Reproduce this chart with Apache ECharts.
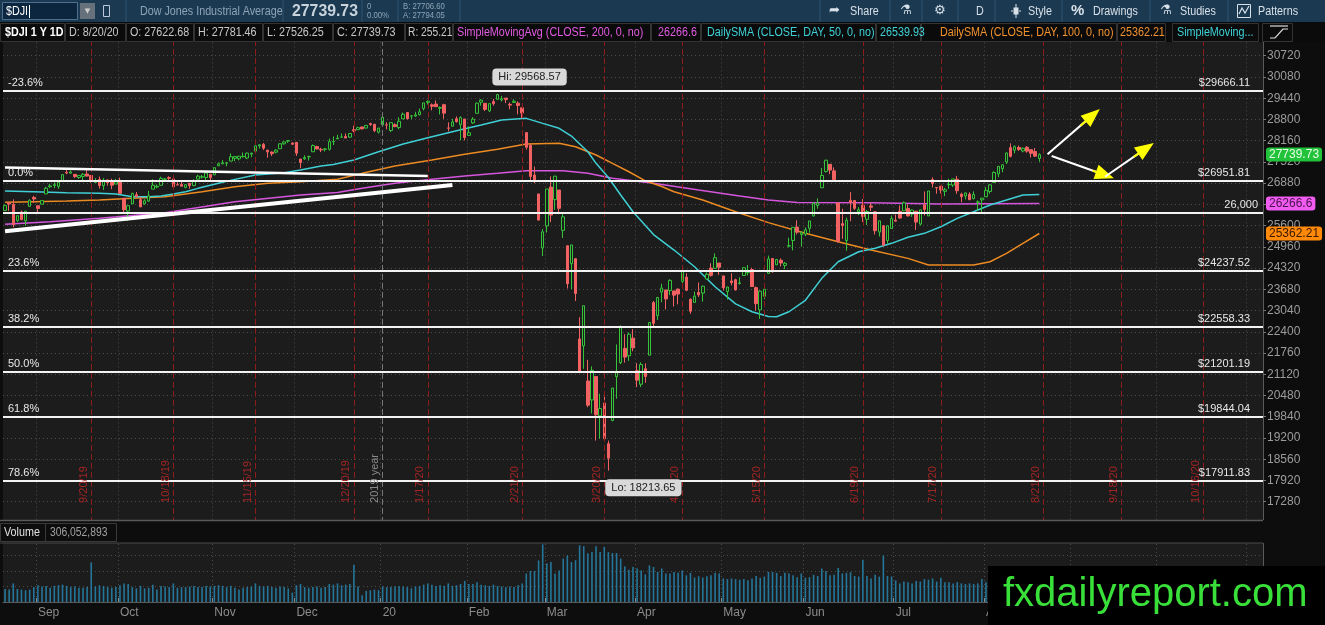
<!DOCTYPE html>
<html lang="en">
<head>
<meta charset="UTF-8">
<title>$DJI 1 Y 1D</title>
<script src="https://cdn.jsdelivr.net/npm/echarts@6/dist/echarts.min.js"></script>
<style>
  html, body { margin: 0; padding: 0; background: #0d0d0d; }
  #chartmain { width: 1325px; height: 625px; }
</style>
</head>
<body>
<div id="chartmain"></div>
<script>
// trading days shown on the time axis (after 8/20/20 the chart is empty space)
var tradingDays = {
    '2019-8':  [21,22,23,26,27,28,29,30],
    '2019-9':  [3,4,5,6,9,10,11,12,13,16,17,18,19,20,23,24,25,26,27,30],
    '2019-10': [1,2,3,4,7,8,9,10,11,14,15,16,17,18,21,22,23,24,25,28,29,30,31],
    '2019-11': [1,4,5,6,7,8,11,12,13,14,15,18,19,20,21,22,25,26,27,29],
    '2019-12': [2,3,4,5,6,9,10,11,12,13,16,17,18,19,20,23,24,26,27,30,31],
    '2020-1':  [2,3,6,7,8,9,10,13,14,15,16,17,21,22,23,24,27,28,29,30,31],
    '2020-2':  [3,4,5,6,7,10,11,12,13,14,18,19,20,21,24,25,26,27,28],
    '2020-3':  [2,3,4,5,6,9,10,11,12,13,16,17,18,19,20,23,24,25,26,27,30,31],
    '2020-4':  [1,2,3,6,7,8,9,13,14,15,16,17,20,21,22,23,24,27,28,29,30],
    '2020-5':  [1,4,5,6,7,8,11,12,13,14,15,18,19,20,21,22,26,27,28,29],
    '2020-6':  [1,2,3,4,5,8,9,10,11,12,15,16,17,18,19,22,23,24,25,26,29,30],
    '2020-7':  [1,2,6,7,8,9,10,13,14,15,16,17,20,21,22,23,24,27,28,29,30,31],
    '2020-8':  [3,4,5,6,7,10,11,12,13,14,17,18,19,20,21,24,25,26,27,28,31],
    '2020-9':  [1,2,3,4,8,9,10,11,14,15,16,17,18,21,22,23,24,25,28,29,30],
    '2020-10': [1,2,5,6,7,8,9,12,13,14,15,16,19,20,21,22,23,26,27,28,29,30],
    '2020-11': [2,3,4,5]
};
var monthNames = ['Jan','Feb','Mar','Apr','May','Jun','Jul','Aug','Sep','Oct','Nov','Dec'];

// daily candles [open, high, low, close], 8/21/19 .. 8/20/20
var ohlc = [
    // Aug 2019
    [26058,26240,26052,26202],[26290,26319,26042,26252],[26238,26390,25550,25629],[25747,25899,25712,25899],
    [26009,26053,25767,25778],[25743,26042,25596,26036],[26178,26395,26178,26363],[26449,26498,26280,26403],
    // Sep
    [26198,26198,25979,26118],[26245,26365,26245,26355],[26555,26768,26555,26728],[26769,26860,26743,26797],
    [26809,26906,26728,26835],[26780,26910,26708,26909],[26941,27138,26918,27137],[27205,27307,27149,27182],
    [27182,27266,27164,27220],[27145,27154,27041,27076],[27050,27112,27011,27111],[27083,27182,26930,27147],
    [27155,27306,27082,27094],[27111,27122,26890,26935],[26903,27030,26890,26949],[26990,27079,26715,26808],
    [26806,27033,26674,26970],[26977,26988,26804,26891],[26939,27014,26698,26820],[26852,27009,26852,26917],
    // Oct
    [26963,27047,26562,26573],[26425,26425,25974,26078],[26039,26207,25743,26201],[26257,26588,26257,26573],
    [26532,26613,26443,26478],[26383,26469,26160,26164],[26256,26398,26233,26347],[26339,26646,26320,26497],
    [26700,27000,26700,26817],[26763,26839,26728,26787],[26815,27074,26815,27024],[27000,27037,26935,27002],
    [27049,27089,26952,27026],[27008,27022,26718,26770],[26834,26904,26808,26828],[26841,26949,26788,26788],
    [26751,26834,26722,26834],[26876,26881,26711,26806],[26803,27000,26791,26958],[27002,27132,27002,27091],
    [27060,27125,27022,27071],[27051,27189,26929,27186],[27147,27147,26917,27046],
    // Nov
    [27130,27348,27130,27347],[27401,27502,27401,27462],[27462,27573,27455,27492],[27482,27520,27389,27493],
    [27546,27775,27546,27675],[27629,27681,27543,27681],[27614,27691,27567,27691],[27677,27802,27653,27691],
    [27638,27800,27603,27784],[27756,27798,27662,27782],[27843,28005,27843,28005],[28000,28053,27922,28036],
    [28048,28091,27876,27934],[27875,27883,27647,27821],[27815,27838,27696,27767],[27814,27901,27777,27876],
    [27917,28068,27917,28067],[28065,28134,28040,28122],[28145,28175,28094,28164],[28089,28105,28036,28051],
    // Dec
    [28109,28109,27701,27784],[27605,27605,27325,27503],[27616,27719,27578,27650],[27675,27710,27559,27678],
    [27826,28046,27826,28015],[27981,28009,27903,27910],[27900,27945,27815,27881],[27900,27942,27832,27911],
    [27901,28225,27858,28132],[28124,28289,28028,28135],[28213,28337,28213,28236],[28268,28377,28244,28268],
    [28285,28377,28237,28239],[28266,28377,28245,28377],[28491,28608,28412,28455],[28491,28582,28491,28551],
    [28573,28576,28503,28515],[28539,28621,28535,28621],[28675,28701,28608,28645],[28654,28664,28420,28462],
    [28416,28547,28376,28538],
    // Jan 2020
    [28638,28872,28627,28868],[28635,28716,28501,28634],[28466,28708,28420,28703],[28640,28686,28565,28584],
    [28556,28866,28501,28745],[28817,29009,28817,28957],[29009,29017,28796,28824],[28903,28910,28807,28907],
    [28904,29030,28877,28940],[28943,29127,28919,29030],[29132,29300,29071,29298],[29313,29374,29250,29348],
    [29239,29283,29073,29196],[29264,29373,29170,29186],[29137,29192,28950,29160],[29244,29271,28818,28990],
    [28543,28711,28440,28536],[28596,28819,28596,28723],[28820,28891,28704,28734],[28641,28888,28170,28860],
    [28813,28813,28169,28256],
    // Feb
    [28319,28595,28319,28400],[28696,28868,28665,28808],[28986,29308,28986,29291],[29320,29408,29214,29380],
    [29286,29286,29056,29103],[29059,29277,29024,29276],[29337,29415,29216,29276],[29406,29568.57,29406,29551],
    [29391,29508,29341,29424],[29443,29443,29293,29398],[29255,29310,29107,29232],[29313,29410,29300,29348],
    [29291,29346,28952,29220],[29152,29152,28830,28992],[28403,28403,27891,27961],[28024,28065,26977,27081],
    [27123,27378,26879,26957],[26555,26555,25758,25766],[24924,25496,24681,25409],
    // Mar
    [25591,26706,25391,26703],[26762,27084,25706,25917],[26383,27091,26077,27091],[26671,26671,25943,26121],
    [25457,25994,25226,25864],[24993,24993,23706,23851],[24453,25020,23690,25018],[24604,24604,23328,23553],
    [22184,22838,21154,21200],[21973,23190,21285,23185],[20917,21555,20127,20189],[20345,21357,19941,21237],
    [21051,21051,19122,19899],[19863,20531,19177,20087],[20253,20531,19112,19174],[19028,19121,18213.65,18592],
    [19723,20705,19708,20704],[21050,22020,20383,21201],[21468,22595,21427,22552],[21899,22327,21470,21637],
    [21678,22378,21522,22327],[22208,22480,21813,21917],
    // Apr
    [21228,21453,20735,20943],[20819,21478,20735,21413],[21285,21447,20863,21053],[21693,22680,21693,22680],
    [23280,23329,22552,22654],[22885,23452,22755,23434],[23596,23849,23291,23719],[23660,23660,23072,23390],
    [23642,23980,23506,23950],[23632,23632,23164,23504],[23686,23700,23226,23538],[23922,24264,23811,24242],
    [24049,24164,23633,23650],[23380,23407,22942,23019],[23286,23610,23286,23475],[23583,23887,23450,23515],
    [23568,23790,23309,23775],[23991,24190,23978,24134],[24320,24466,24060,24101],[24312,24764,24312,24634],
    [24472,24472,24118,24346],
    // May
    [24085,24085,23643,23724],[23612,23760,23372,23749],[23932,24164,23800,23883],[23969,24002,23639,23665],
    [23855,24041,23823,23875],[24097,24349,24097,24331],[24181,24410,24101,24221],[24275,24331,23764,23764],
    [23731,23767,23036,23248],[23060,23644,22790,23625],[23471,23686,23383,23685],[24160,24695,24160,24597],
    [24608,24608,24186,24207],[24419,24599,24409,24576],[24557,24612,24369,24474],[24400,24503,24290,24465],
    [24982,25234,24943,24995],[25154,25548,24854,25548],[25555,25761,25334,25401],[25331,25426,24964,25383],
    // Jun
    [25342,25545,25281,25475],[25518,25742,25384,25742],[25889,26305,25889,26270],[26205,26421,26108,26282],
    [26741,27338,26741,27111],[27232,27580,27200,27572],[27447,27447,27152,27273],[27251,27355,26939,26990],
    [26282,26282,25082,25128],[25659,26110,25201,25606],[25148,25841,24843,25763],[26365,26611,25732,26290],
    [26356,26367,26073,26120],[26016,26154,25916,26080],[26214,26400,25714,25871],[25791,26072,25621,26025],
    [26194,26288,26036,26156],[26017,26035,25329,25445],[25406,25745,25270,25745],[25596,25596,24971,25016],
    [25152,25597,25059,25596],[25512,25905,25504,25813],
    // Jul
    [25763,25934,25724,25735],[26031,26204,25806,25827],[26047,26328,26037,26287],[26114,26237,25884,25890],
    [25947,26085,25865,26067],[26035,26035,25470,25706],[25647,26075,25601,26075],[26224,26630,25905,26086],
    [25891,26643,25891,26643],[26987,27056,26749,26870],[26750,26758,26562,26735],[26787,26787,26567,26672],
    [26632,26738,26486,26681],[26831,27013,26710,26840],[26822,27006,26764,27005],[26998,27100,26558,26652],
    [26549,26590,26305,26470],[26491,26600,26388,26584],[26548,26604,26370,26380],[26414,26631,26389,26540],
    [26306,26363,26053,26314],[26377,26429,26008,26428],
    // Aug
    [26468,26760,26468,26664],[26629,26847,26560,26828],[26901,27241,26901,27201],[27160,27391,27057,27387],
    [27316,27434,27208,27433],[27521,27800,27457,27791],[27950,28081,27655,27687],[27871,28020,27778,27977],
    [27955,28013,27848,27897],[27850,27961,27809,27931],[27961,27997,27794,27845],[27889,27889,27651,27779],
    [27835,27939,27689,27692],[27622.68,27781.46,27526.25,27739.73]
];

// volume, millions of shares
var volume = [
    210,200,300,210,200,190,200,240,
    270,250,260,230,260,270,280,260,240,250,230,230,240,640,250,270,260,240,230,240,
    270,300,290,240,220,260,220,230,280,200,260,250,240,300,230,240,240,250,260,240,240,260,250,
    260,270,260,240,260,230,200,230,240,250,300,260,250,260,240,230,250,240,220,150,
    270,290,240,230,240,250,230,240,290,280,300,270,280,290,600,250,110,180,190,200,190,
    250,240,240,250,260,250,240,220,250,260,280,300,280,260,270,260,300,260,270,290,340,
    290,290,320,280,270,260,280,260,250,240,250,240,270,300,460,500,500,670,930,
    620,645,460,510,700,750,645,675,915,900,785,805,900,805,890,805,790,790,700,575,520,565,
    540,510,445,590,565,485,540,460,460,485,472,510,430,472,395,415,395,415,430,472,460,
    380,370,380,370,360,370,350,380,420,390,410,485,485,470,420,470,460,430,400,460,
    390,400,440,420,540,500,430,440,550,460,470,480,420,410,680,420,380,440,410,750,420,410,
    350,300,330,320,300,340,330,370,360,380,330,390,320,320,300,320,300,290,300,290,300,370,
    320,330,350,320,300,390,420,330,300,290,300,290,310,306.05
];

// moving averages: [bar index, value]
var sma50 = [
    [0,26642],[7,26622],[15,26591],[23,26572],[27,26552],[31,26470],[35,26470],[38,26491],[41,26552],
    [44,26622],[47,26723],[52,26874],[56,26994],[61,27125],[68,27195],[72,27275],[77,27396],[80,27440],
    [85,27576],[91,27827],[97,28059],[104,28279],[110,28460],[116,28631],[121,28782],[127,28833],
    [131,28682],[135,28532],[138,28300],[142,27827],[144,27477],[147,27050],[150,26522],[153,26018],
    [158,25330],[163,24864],[168,24361],[173,23758],[178,23240],[182,23004],[186,22860],[188,22853],
    [191,23004],[195,23350],[199,24011],[203,24512],[208,24813],[212,24915],[216,25066],[220,25247],
    [224,25367],[228,25566],[232,25819],[236,26018],[240,26220],[244,26371],[248,26522],[252,26540]
];
var sma100 = [
    [0,26301],[7,26320],[15,26341],[23,26371],[31,26421],[39,26470],[48,26622],[56,26772],[64,26874],
    [72,26923],[81,27000],[87,27175],[95,27396],[104,27577],[112,27748],[120,27899],[127,28059],
    [135,28080],[139,27978],[144,27728],[148,27477],[152,27224],[156,26950],[160,26780],[163,26622],
    [170,26371],[178,26018],[186,25690],[195,25368],[203,25114],[211,24864],[220,24613],[225,24412],
    [236,24412],[240,24512],[244,24764],[248,25066],[252,25362]
];
var sma200 = [
    [0,25638],[11,25717],[23,25819],[39,25988],[56,26320],[72,26522],[81,26600],[87,26723],[95,26874],
    [104,26994],[112,27094],[120,27175],[127,27254],[136,27254],[142,27175],[148,27025],[158,26880],
    [169,26672],[179,26491],[186,26371],[193,26300],[211,26290],[228,26250],[252,26267]
];

// fibonacci retracement drawing + support line
var fibPct = ['-23.6%','0.0%','23.6%','38.2%','50.0%','61.8%','78.6%'];
var fibVal = [29666.11, 26951.81, 24237.52, 22558.33, 21201.19, 19844.04, 17911.83];
var support = 26000;

// monthly expirations and year marker
var expiries = ['9/20/19','10/18/19','11/15/19','12/20/19','1/17/20','2/21/20','3/20/20',
                '4/17/20','5/15/20','6/19/20','7/17/20','8/21/20','9/18/20','10/16/20'];
var yearMark = '1/2/20';

// hand drawn trend lines [date, price], width
var trendLines = [
    [['8/21/19', 27354], ['1/17/20', 27094], 2.5],
    [['8/21/19', 25431], ['1/28/20', 26826], 4]
];
// arrows: start, head start, tip
var arrows = [
    [['8/24/20', 27750], ['9/3/20', 28608], ['9/9/20', 28930]],
    [['8/25/20', 27697], ['9/9/20', 27256], ['9/14/20', 27124]],
    [['9/14/20', 27073], ['9/23/20', 27672], ['9/28/20', 27929]]
];

var lastClose = 27739.73, lastSma200 = 26266.6, lastSma100 = 25362.21;
var hiPoint = ['2/12/20', 29568.57], loPoint = ['3/23/20', 18213.65];

// ---- build categories ----
var cats = [], monthStart = [];
Object.keys(tradingDays).forEach(function (key) {
    var ym = key.split('-');
    tradingDays[key].forEach(function (d, j) {
        monthStart.push(j === 0 && cats.length > 0);
        cats.push(ym[1] + '/' + d + '/' + ym[0].slice(2));
    });
});
function isMonth(i) { return monthStart[i]; }

var FONT = "'Liberation Sans', Arial, sans-serif";
var dotted = { color: '#4a4a4a', width: 1, type: [1, 3] };
var clear = 'rgba(0,0,0,0)';

var candles = ohlc.map(function (r) { return [r[0], r[3], r[2], r[1]]; });

// drawings -> markLine pairs
var drawLines = [];
arrows.forEach(function (a) {
    drawLines.push([{ coord: a[0], symbol: 'none', lineStyle: { color: '#ffffff', width: 2, type: 'solid' } },
                    { coord: a[2], symbol: 'none' }]);
    drawLines.push([{ coord: a[1], symbol: 'none', lineStyle: { color: '#ffff00', width: 2, type: 'solid' } },
                    { coord: a[2], symbol: 'triangle', symbolSize: [15, 19] }]);
});
trendLines.forEach(function (t) {
    drawLines.push([{ coord: t[0], symbol: 'none', lineStyle: { color: '#ffffff', width: t[2], type: 'solid' } },
                    { coord: t[1], symbol: 'none' }]);
});

function tag(v, bg, fg, txt) {
    return { yAxis: v, label: { formatter: txt, backgroundColor: bg, color: fg } };
}

// ---- header / chrome graphics ----
function T(x, y, text, fill, font, sx, align) {
    return { type: 'text', x: x, y: y, z: 100, silent: true, scaleX: sx || 1,
             style: { text: text, fill: fill, font: font, verticalAlign: 'middle', align: align || 'left' } };
}
function R(x, y, w, h, fill, stroke) {
    return { type: 'rect', z: 99, silent: true, shape: { x: x, y: y, width: w, height: h },
             style: { fill: fill || 'none', stroke: stroke || 'none', lineWidth: 1 } };
}
function L(x1, y1, x2, y2, stroke, w) {
    return { type: 'line', z: 100, silent: true, shape: { x1: x1, y1: y1, x2: x2, y2: y2 },
             style: { stroke: stroke, lineWidth: w || 1 } };
}
var hdr = '#d8e0e8', sub = '#8fa4b6', sep = '#2f5270', gray = '#c8c8c8';
var ui = '12.5px ' + FONT, SX = 0.86;
var graphics = [
    R(0, 0, 1325, 22, '#1b3a52'),
    R(2.5, 2.5, 75, 17, '#0c2640', '#4d7090'),
    T(6, 11.5, '$DJI', '#ffffff', ui, SX), L(29.5, 5, 29.5, 18, '#ffffff', 1),
    R(80, 3, 15, 16, '#66717c'), T(87.5, 11, '▼', '#d0d0d0', '7px DejaVu Sans', 1, 'center'),
    R(103.5, 5.5, 6, 11, null, '#b8c8d8'),
    L(126, 0, 126, 22, sep), L(283, 0, 283, 22, sep), L(362, 0, 362, 22, sep),
    L(398, 0, 398, 22, sep), L(460, 0, 460, 22, sep),
    T(140, 11.5, 'Dow Jones Industrial Average', sub, ui, SX),
    T(292, 11.5, '27739.73', '#c9d3dc', 'bold 17px ' + FONT, 0.93),
    T(367, 6.5, '0', sub, '9px ' + FONT, SX), T(367, 16, '0.00%', sub, '9px ' + FONT, SX),
    T(403, 6.5, 'B: 27706.60', sub, '9px ' + FONT, SX), T(403, 16, 'A: 27794.05', sub, '9px ' + FONT, SX),
    L(820, 0, 820, 22, sep), T(829, 11, '➦', hdr, '13px DejaVu Sans'), T(850, 11.5, 'Share', hdr, ui, SX),
    L(890, 0, 890, 22, sep), T(900, 11, '⚗', hdr, '13px DejaVu Sans'),
    L(922, 0, 922, 22, sep), T(934, 11, '⚙', hdr, '13px DejaVu Sans'),
    L(958, 0, 958, 22, sep), T(976, 11.5, 'D', hdr, ui, SX),
    L(995, 0, 995, 22, sep), L(1016, 4, 1016, 18, hdr), R(1013.5, 7.5, 5, 7, hdr),
    L(1011, 11, 1013, 11, hdr), L(1019, 11, 1021, 11, hdr), T(1028, 11.5, 'Style', hdr, ui, SX),
    L(1062, 0, 1062, 22, sep), T(1071, 11, '%', hdr, 'bold 15px ' + FONT), T(1093, 11.5, 'Drawings', hdr, ui, SX),
    L(1150, 0, 1150, 22, sep), T(1160, 11, '⚗', hdr, '13px DejaVu Sans'), T(1180, 11.5, 'Studies', hdr, ui, SX),
    L(1228, 0, 1228, 22, sep), R(1237.5, 4.5, 13, 13, null, hdr),
    { type: 'polyline', z: 100, silent: true, shape: { points: [[1239, 14], [1242, 8], [1245, 13], [1249, 6]] },
      style: { stroke: hdr, lineWidth: 1.2, fill: 'none' } },
    T(1258, 11.5, 'Patterns', hdr, ui, SX),

    R(0, 22, 1325, 20, '#0b0b0b'),
    R(0.5, 23.5, 64, 18, null, '#333'), R(65.5, 23.5, 60, 18, null, '#333'), R(126.5, 23.5, 67, 18, null, '#333'),
    R(194.5, 23.5, 68, 18, null, '#333'), R(263.5, 23.5, 69, 18, null, '#333'), R(333.5, 23.5, 71, 18, null, '#333'),
    R(405.5, 23.5, 47, 18, null, '#333'), R(453.5, 23.5, 197, 18, null, '#333'), R(651.5, 23.5, 49, 18, null, '#333'),
    R(701.5, 23.5, 174, 18, null, '#333'), R(876.5, 23.5, 44, 18, null, '#333'), R(921.5, 23.5, 195, 18, null, '#333'),
    R(1117.5, 23.5, 48, 18, null, '#333'), R(1172.5, 23.5, 86, 18, null, '#333'), R(1262.5, 23.5, 30, 18, null, '#333'),
    T(5, 32.5, '$DJI 1 Y 1D', '#ffffff', 'bold 12.5px ' + FONT, SX),
    T(69, 32.5, 'D: 8/20/20', gray, ui, SX),
    T(130, 32.5, 'O: 27622.68', gray, ui, SX),
    T(198, 32.5, 'H: 27781.46', gray, ui, SX),
    T(267, 32.5, 'L: 27526.25', gray, ui, SX),
    T(337, 32.5, 'C: 27739.73', gray, ui, SX),
    T(408, 32.5, 'R: 255.21', gray, ui, 0.82),
    T(457, 32.5, 'SimpleMovingAvg (CLOSE, 200, 0, no)', '#e35be3', ui, SX),
    T(658, 32.5, '26266.6', '#e35be3', ui, SX),
    T(707, 32.5, 'DailySMA (CLOSE, DAY, 50, 0, no)', '#3fd3d8', ui, SX),
    T(880, 32.5, '26539.93', '#3fd3d8', ui, SX),
    T(940, 32.5, 'DailySMA (CLOSE, DAY, 100, 0, no)', '#f39330', ui, SX),
    T(1120, 32.5, '25362.21', '#f39330', ui, SX),
    T(1177, 32.5, 'SimpleMoving...', '#3fd3d8', ui, SX),
    L(1270, 26, 1288, 26, '#dddddd', 1.2),
    { type: 'polyline', z: 100, silent: true, shape: { points: [[1270, 38], [1275, 38], [1283, 29], [1288, 29]] },
      style: { stroke: '#dddddd', lineWidth: 1.2, fill: 'none' } },

    R(0, 520, 1325, 23, '#0d0d0d'),
    L(0, 520.5, 1263, 520.5, '#5a5a5a', 1.5),
    R(0.5, 523.5, 45, 18, null, '#3a3a3a'), R(45.5, 523.5, 71, 18, null, '#3a3a3a'),
    T(4, 533, 'Volume', '#e0e0e0', '12.5px ' + FONT, SX),
    T(50, 533, '306,052,893', '#a0a0a0', '12px ' + FONT, SX),
    L(0, 543, 1263, 543, '#4a4a4a', 1),

    R(988, 566, 337, 59, '#000000'),
    T(1003, 595, 'fxdailyreport.com', '#3ae03a', '40px ' + FONT)
];

var option = {
    animation: false,
    backgroundColor: '#0d0d0d',
    textStyle: { fontFamily: FONT },
    graphic: { elements: graphics },
    grid: [
        { left: 3, top: 34.5, width: 1260, height: 488.4, show: true, backgroundColor: '#1c1c1c',
          borderWidth: 0, containLabel: false, outerBoundsMode: 'none' },
        { left: 3, top: 540, width: 1260, height: 62, show: true, backgroundColor: '#1c1c1c',
          borderWidth: 0, containLabel: false, outerBoundsMode: 'none' }
    ],
    xAxis: [
        { type: 'category', gridIndex: 0, data: cats, boundaryGap: true,
          axisLine: { show: false }, axisTick: { show: false }, axisLabel: { show: false },
          splitLine: { show: true, interval: isMonth, lineStyle: dotted } },
        { type: 'category', gridIndex: 1, data: cats, boundaryGap: true,
          axisLine: { show: true, lineStyle: { color: '#5a5a5a' } },
          axisTick: { show: true, interval: isMonth, inside: true, length: 4, lineStyle: { color: '#888' } },
          splitLine: { show: true, interval: isMonth, lineStyle: dotted },
          axisLabel: { show: true, interval: isMonth, align: 'left', margin: 5, color: '#8c8c8c', fontSize: 12,
                       formatter: function (v) {
                           var p = v.split('/'), m = parseInt(p[0], 10);
                           return m === 1 ? p[2] : monthNames[m - 1];
                       } } }
    ],
    yAxis: [
        { type: 'value', gridIndex: 0, position: 'right', min: 16640, max: 31360, interval: 640,
          axisLine: { show: true, lineStyle: { color: '#5a5a5a' } },
          axisTick: { show: true, length: 3, lineStyle: { color: '#777' } },
          axisLabel: { color: '#9c9c9c', fontSize: 12, margin: 4, showMinLabel: false, showMaxLabel: false,
                       formatter: function (v) { return String(v); } },
          splitLine: { show: true, lineStyle: dotted } },
        { type: 'value', gridIndex: 1, position: 'right', min: 0, max: 1000, interval: 250,
          axisLine: { show: true, lineStyle: { color: '#5a5a5a' } },
          axisTick: { show: false }, axisLabel: { show: false },
          splitLine: { show: true, lineStyle: dotted } }
    ],
    series: [
        { name: 'SMA200', type: 'line', data: sma200, showSymbol: false, z: 2,
          lineStyle: { color: '#d556dd', width: 1.5 } },
        { name: 'SMA100', type: 'line', data: sma100, showSymbol: false, z: 2,
          lineStyle: { color: '#ec8a22', width: 1.5 } },
        { name: 'SMA50', type: 'line', data: sma50, showSymbol: false, z: 2,
          lineStyle: { color: '#3fd0d6', width: 1.5 } },
        { name: '$DJI', type: 'candlestick', data: candles, barWidth: 3, z: 3,
          itemStyle: { color: '#1c1c1c', borderColor: '#35c43a', color0: '#f26262', borderColor0: '#f26262', borderWidth: 1 },
          markPoint: {
              silent: true, symbol: 'rect', symbolSize: 1, itemStyle: { color: clear },
              label: { show: true, position: 'inside', backgroundColor: '#d9d9d9', color: '#222',
                       fontSize: 11, padding: [3, 6], borderRadius: 4 },
              data: [
                  { coord: hiPoint, label: { formatter: 'Hi: 29568.57', offset: [32, -17] } },
                  { coord: loPoint, label: { formatter: 'Lo: 18213.65', offset: [35, 17] } }
              ] } },
        { name: 'volume', type: 'bar', xAxisIndex: 1, yAxisIndex: 1, data: volume, barWidth: 1.6,
          itemStyle: { color: '#24769a' } },
        // expiration + year lines
        { name: 'exp', type: 'line', data: [], z: 1,
          markLine: { silent: true, symbol: 'none',
              lineStyle: { color: '#8e1c1c', width: 1, type: [6, 3] },
              label: { show: true, position: 'insideStartTop', distance: [20, 2], color: '#a32424', fontSize: 11 },
              data: expiries.map(function (d) { return { xAxis: d, label: { formatter: d } }; }).concat([
                  { xAxis: yearMark, lineStyle: { color: '#777', type: [6, 3] },
                    label: { formatter: '2019 year', color: '#8a8a8a' } }
              ]) } },
        // fibonacci levels, left labels
        { name: 'fibL', type: 'line', data: [], z: 4,
          markLine: { silent: true, symbol: 'none',
              lineStyle: { color: '#f2f2f2', width: 2, type: 'solid' },
              label: { show: true, position: 'insideStartTop', distance: [5, 2], color: '#e8e8e8', fontSize: 11 },
              data: fibVal.map(function (v, i) { return { yAxis: v, label: { formatter: fibPct[i] } }; }).concat([
                  { yAxis: support, label: { formatter: '26,000', position: 'insideEndTop', distance: [5, 2] } }
              ]) } },
        // fibonacci levels, right price labels
        { name: 'fibR', type: 'line', data: [], z: 4,
          markLine: { silent: true, symbol: 'none',
              lineStyle: { color: clear, width: 1, type: 'solid' },
              label: { show: true, position: 'insideEndTop', distance: [13, 2], color: '#e8e8e8', fontSize: 11 },
              data: fibVal.map(function (v) { return { yAxis: v, label: { formatter: '$' + v.toFixed(2) } }; }) } },
        // drawings
        { name: 'draw', type: 'line', data: [], z: 5,
          markLine: { silent: true, label: { show: false }, data: drawLines } },
        // price tags on the axis
        { name: 'tags', type: 'line', data: [], z: 6,
          markLine: { silent: true, symbol: 'none', lineStyle: { color: clear, width: 1, type: 'solid' },
              label: { show: true, position: 'end', distance: 3, fontSize: 12, padding: [1, 3], borderRadius: 3 },
              data: [
                  tag(lastClose, '#22c33a', '#e8ffe8', '27739.73'),
                  tag(lastSma200, '#ef5cef', '#4a104f', '26266.6'),
                  tag(lastSma100, '#ff8a0a', '#3a1800', '25362.21')
              ] } }
    ]
};

var myChart = echarts.init(document.getElementById('chartmain'));
myChart.setOption(option);
</script>
</body>
</html>
